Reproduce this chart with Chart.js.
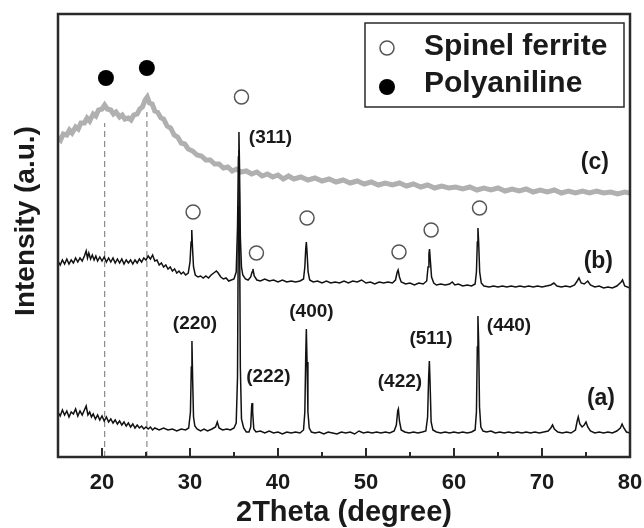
<!DOCTYPE html>
<html>
<head>
<meta charset="utf-8">
<script src="https://cdn.jsdelivr.net/npm/chart.js@4.4.0/dist/chart.umd.min.js"></script>
<style>
  html, body { margin: 0; padding: 0; background: #fff; }
  #wrap { width: 644px; height: 528px; }
</style>
</head>
<body>
<div id="wrap"><canvas id="xrd"></canvas></div>
<script>
const FONT = "'Liberation Sans', Arial, sans-serif";

// ================= DATA (2theta, intensity in arbitrary units) =================
const curveA = [
  [15,45],[15.25,41],[15.5,47],[15.75,42],[16,46],[16.25,40],[16.5,45],[16.75,43],[17,48],[17.25,41],
  [17.5,46],[17.75,42],[18,47],[18.2,51],[18.4,42],[18.6,45],[18.8,40],[19,43],[19.25,38],[19.5,42],
  [19.75,37],[20,41],[20.25,36],[20.5,40],[20.75,35],[21,38],[21.25,34],[21.5,37],[21.75,33],[22,36],
  [22.25,32],[22.5,35],[22.75,31],[23,34],[23.25,30],[23.5,33],[23.75,29],[24,32],[24.25,29],[24.5,31],
  [24.75,28],[25,30],[25.25,28],[25.5,30],[25.75,27],[26,29],[26.5,27],[27,29],[27.5,27],[28,28],
  [28.5,26],[29,28],[29.5,27],[29.85,29],[30.05,45],[30.15,90],[30.22,116],[30.3,78],[30.4,40],[30.55,31],
  [30.8,28],[31.2,26],[31.6,28],[32,26],[32.5,28],[32.9,30],[33.1,35],[33.3,29],[33.7,27],[34.2,28],
  [34.6,27],[35,29],[35.25,34],[35.4,80],[35.5,250],[35.56,307],[35.62,250],[35.72,90],[35.85,38],[36.1,29],
  [36.4,25],[36.7,25],[36.9,30],[37,50],[37.05,54],[37.12,45],[37.25,28],[37.5,25],[38,26],[38.5,24],
  [39,26],[39.5,24],[40,25],[40.5,23],[41,25],[41.5,24],[42,25],[42.5,24],[42.9,27],[43.05,45],
  [43.15,100],[43.22,128],[43.3,95],[43.4,45],[43.55,29],[43.8,25],[44.2,24],[44.7,25],[45.2,23],[45.7,25],
  [46.2,24],[46.7,23],[47.2,25],[47.7,24],[48.2,25],[48.7,23],[49.2,26],[49.7,24],[50.2,25],[50.7,24],
  [51.2,25],[51.7,24],[52.2,25],[52.7,24],[53.2,26],[53.45,32],[53.6,46],[53.68,48],[53.8,36],[54,27],
  [54.4,25],[54.9,24],[55.4,25],[55.9,24],[56.4,25],[56.8,26],[57,40],[57.12,80],[57.2,96],[57.28,75],
  [57.4,35],[57.6,27],[58,25],[58.5,24],[59,25],[59.5,24],[60,25],[60.5,24],[61,25],[61.5,24],
  [62,25],[62.4,27],[62.55,45],[62.65,110],[62.72,141],[62.8,115],[62.9,50],[63.05,30],[63.3,26],[63.7,25],
  [64.2,26],[64.7,24],[65.2,25],[65.7,24],[66.2,25],[66.7,24],[67.2,25],[67.7,24],[68.2,25],[68.7,24],
  [69.2,25],[69.7,24],[70.2,25],[70.7,26],[71,29],[71.2,32],[71.4,28],[71.8,25],[72.3,24],[72.8,25],
  [73.3,24],[73.8,27],[74,36],[74.12,40],[74.3,33],[74.55,30],[74.8,32],[75,35],[75.2,30],[75.5,26],
  [76,24],[76.5,25],[77,24],[77.5,25],[78,24],[78.5,26],[78.9,29],[79.1,33],[79.3,29],[79.6,25],[80,24]
];

const curveB = [
  [15,196],[15.25,192],[15.5,197],[15.75,193],[16,198],[16.25,193],[16.5,197],[16.75,194],[17,199],[17.25,195],
  [17.5,199],[17.75,196],[18,201],[18.2,206],[18.35,199],[18.5,204],[18.7,198],[18.9,202],[19.1,197],[19.3,201],
  [19.5,196],[19.75,200],[20,196],[20.25,200],[20.5,195],[20.75,199],[21,195],[21.25,199],[21.5,194],[21.75,198],
  [22,194],[22.25,198],[22.5,193],[22.75,197],[23,194],[23.25,197],[23.5,193],[23.75,197],[24,194],[24.25,198],
  [24.5,195],[24.75,199],[25,197],[25.25,201],[25.5,198],[25.75,202],[26,196],[26.25,197],[26.5,192],[26.75,194],
  [27,190],[27.25,192],[27.5,188],[27.75,190],[28,186],[28.25,188],[28.5,184],[28.75,186],[29,183],[29.25,185],
  [29.5,182],[29.8,184],[30,195],[30.12,215],[30.2,227],[30.28,210],[30.4,190],[30.6,182],[30.9,180],[31.2,181],
  [31.5,179],[31.8,181],[32.1,179],[32.4,182],[32.7,184],[33,186],[33.2,184],[33.5,180],[33.8,178],[34.1,179],
  [34.4,176],[34.7,177],[35,178],[35.25,185],[35.4,230],[35.5,300],[35.56,325],[35.62,295],[35.72,220],[35.85,190],
  [36,182],[36.3,178],[36.6,177],[36.9,180],[37.05,185],[37.15,188],[37.3,181],[37.6,177],[38,176],[38.5,178],
  [39,176],[39.5,177],[40,175],[40.5,177],[41,175],[41.5,176],[42,175],[42.5,176],[42.9,178],[43.05,190],
  [43.15,208],[43.22,215],[43.3,205],[43.42,185],[43.6,177],[44,175],[44.5,176],[45,174],[45.5,176],[46,174],
  [46.5,175],[47,174],[47.5,176],[48,174],[48.5,176],[49,175],[49.5,177],[50,174],[50.5,175],[51,173],
  [51.5,175],[52,174],[52.5,175],[53,174],[53.35,177],[53.55,185],[53.65,187],[53.8,180],[54,175],[54.5,173],
  [55,174],[55.5,172],[56,174],[56.5,173],[56.9,176],[57.05,190],[57.15,203],[57.22,208],[57.3,198],[57.45,180],
  [57.7,174],[58,172],[58.5,173],[59,172],[59.5,173],[59.8,175],[60.1,172],[60.5,173],[61,171],[61.5,172],
  [62,171],[62.4,173],[62.55,185],[62.65,215],[62.72,229],[62.8,215],[62.92,185],[63.1,174],[63.4,171],[64,170],
  [64.5,171],[65,170],[65.5,171],[66,170],[66.5,171],[67,170],[67.5,171],[68,170],[68.5,171],[69,170],
  [69.5,171],[70,170],[70.5,171],[71,172],[71.35,174],[71.7,171],[72.2,170],[72.7,171],[73.2,170],[73.7,172],
  [74,176],[74.2,179],[74.45,174],[74.8,173],[75.2,176],[75.5,172],[76,170],[76.5,171],[77,169],[77.5,170],
  [78,169],[78.5,171],[79,175],[79.15,177],[79.4,171],[80,169]
];

const curveC = [
  [15,320],[15.3,317],[15.6,323],[16,322],[16.3,327],[16.6,324],[17,330],[17.3,328],[17.6,334],[18,334],
  [18.3,339],[18.6,336],[19,343],[19.3,341],[19.6,347],[20,348],[20.3,352],[20.6,348],[21,347],[21.3,343],
  [21.6,345],[22,340],[22.3,342],[22.6,338],[23,339],[23.3,337],[23.6,342],[24,343],[24.3,348],[24.6,350],
  [24.9,357],[25.15,360],[25.4,354],[25.7,353],[26,346],[26.3,345],[26.7,339],[27,338],[27.4,331],[27.8,329],
  [28.2,322],[28.6,320],[29,314],[29.4,313],[29.8,308],[30.3,306],[30.8,302],[31.3,301],[31.8,297],[32.3,297],
  [32.8,293],[33.3,293],[33.8,289],[34.3,290],[34.8,286],[35.3,288],[35.8,285],[36.4,286],[37,283],[37.6,285],
  [38.2,281],[38.8,283],[39.4,280],[40,282],[40.6,278],[41.2,281],[41.8,278],[42.6,280],[43.4,277],[44.2,279],
  [45,276],[45.8,278],[46.6,275],[47.4,277],[48.2,274],[49,276],[49.8,273],[50.6,275],[51.4,272],[52.2,274],
  [53,272],[53.8,274],[54.6,271],[55.4,273],[56.2,270],[57,272],[57.8,269],[58.6,271],[59.4,269],[60.2,270],
  [61,268],[61.8,270],[62.6,267],[63.4,269],[64.2,267],[65,269],[65.8,266],[66.6,268],[67.4,266],[68.2,268],
  [69,265],[69.8,267],[70.6,265],[71.4,267],[72.2,264],[73,266],[73.8,264],[74.6,266],[75.4,264],[76.2,266],
  [77,264],[77.8,265],[78.6,263],[79.4,265],[80,264]
];

// marker positions
const ferriteX = [30.35, 35.85, 37.55, 43.3, 53.75, 57.4, 62.9];
const ferriteY = [245, 360, 204, 239, 205, 227, 249];
const panipX = [20.45, 25.1];
const panipY = [379, 389];

// dashed guide lines at the polyaniline peaks
const guideX = [20.3, 25.1];
const guideTop = [334, 345];

// peak labels
const hklText = ['(311)', '(220)', '(222)', '(400)', '(422)', '(511)', '(440)'];
const hklX = [39.15, 30.57, 38.9, 43.8, 53.86, 57.39, 66.25];
const hklY = [319, 133, 80, 145, 75, 118, 131];
const curveText = ['(a)', '(b)', '(c)'];
const curveTextX = [76.7, 76.4, 76.0];
const curveTextY = [58, 195, 294];

const legendText = ['Spinel ferrite', 'Polyaniline'];

// ================= HELPERS =================
const toPts = arr => arr.map(p => ({ x: p[0], y: p[1] }));
const zipPts = (xs, ys) => xs.map((v, i) => ({ x: v, y: ys[i] }));

const decor = {
  id: 'decor',
  afterDatasetsDraw(chart) {
    const { ctx, scales: { x, y } } = chart;
    ctx.save();
    ctx.fillStyle = '#1a1a1a';
    ctx.textAlign = 'center';
    ctx.textBaseline = 'middle';
    ctx.font = 'bold 19px ' + FONT;
    hklText.forEach((t, i) => {
      ctx.fillText(t, x.getPixelForValue(hklX[i]), y.getPixelForValue(hklY[i]));
    });
    ctx.font = 'bold 23px ' + FONT;
    curveText.forEach((t, i) => {
      ctx.fillText(t, x.getPixelForValue(curveTextX[i]), y.getPixelForValue(curveTextY[i]));
    });
    ctx.restore();
  },
  afterDraw(chart) {
    const { ctx, chartArea: a, scales: { x } } = chart;
    ctx.save();
    // frame
    ctx.strokeStyle = '#2a2a2a';
    ctx.lineWidth = 2.5;
    ctx.strokeRect(a.left, a.top, a.right - a.left, a.bottom - a.top);
    // inward ticks
    ctx.lineWidth = 2;
    x.ticks.forEach(t => {
      if (t.value <= x.min || t.value >= x.max) return;
      const px = Math.round(x.getPixelForValue(t.value));
      const len = t.value % 10 === 0 ? 9 : 5;
      ctx.beginPath();
      ctx.moveTo(px, a.bottom);
      ctx.lineTo(px, a.bottom - len);
      ctx.stroke();
    });
    // y title
    ctx.fillStyle = '#1a1a1a';
    ctx.font = 'bold 28px ' + FONT;
    ctx.textAlign = 'center';
    ctx.textBaseline = 'middle';
    ctx.translate(26, 221);
    ctx.rotate(-Math.PI / 2);
    ctx.fillText('Intensity (a.u.)', 0, 0);
    ctx.restore();

    // legend box
    ctx.save();
    const bx = a.right - 6 - 259, by = a.top + 9;
    ctx.strokeStyle = '#2a2a2a';
    ctx.lineWidth = 1.5;
    ctx.strokeRect(bx, by, 259, 84);
    ctx.beginPath();
    ctx.arc(bx + 22, by + 25, 7, 0, Math.PI * 2);
    ctx.strokeStyle = '#555';
    ctx.stroke();
    ctx.beginPath();
    ctx.arc(bx + 22, by + 64, 8, 0, Math.PI * 2);
    ctx.fillStyle = '#000';
    ctx.fill();
    ctx.fillStyle = '#1a1a1a';
    ctx.font = 'bold 30px ' + FONT;
    ctx.textBaseline = 'alphabetic';
    ctx.textAlign = 'left';
    ctx.fillText(legendText[0], bx + 59, by + 32);
    ctx.fillText(legendText[1], bx + 59, by + 69);
    ctx.restore();
  }
};

// ================= CHART =================
const lineDs = (label, data, color, width) => ({
  label, data: toPts(data), showLine: true, borderColor: color, borderWidth: width,
  pointRadius: 0, tension: 0, fill: false
});

new Chart(document.getElementById('xrd'), {
  type: 'scatter',
  data: {
    datasets: [
      {
        label: legendText[0], data: zipPts(ferriteX, ferriteY), pointRadius: 7, pointStyle: 'circle',
        backgroundColor: 'rgba(255,255,255,0)', borderColor: '#555', borderWidth: 1.5
      },
      {
        label: legendText[1], data: zipPts(panipX, panipY), pointRadius: 8,
        backgroundColor: '#000', borderColor: '#000', borderWidth: 0
      },
      lineDs('(a)', curveA, '#111', 1.5),
      lineDs('(b)', curveB, '#111', 1.5),
      lineDs('(c)', curveC, '#b0b0b0', 5),
      ...guideX.map((gx, i) => ({
        label: 'guide' + i, data: [{ x: gx, y: 0 }, { x: gx, y: guideTop[i] }], showLine: true,
        borderColor: '#8a8a8a', borderWidth: 1.2, borderDash: [6, 4], pointRadius: 0
      }))
    ]
  },
  options: {
    responsive: true,
    maintainAspectRatio: false,
    animation: false,
    layout: { padding: { top: 14, right: 14, left: 0, bottom: 0 } },
    plugins: { legend: { display: false }, tooltip: { enabled: false } },
    scales: {
      x: {
        type: 'linear', min: 15, max: 80,
        grid: { display: false },
        border: { display: false },
        ticks: {
          stepSize: 5, autoSkip: false, padding: 5, color: '#1a1a1a',
          font: { family: FONT, size: 22, weight: 'bold' },
          callback: v => (v % 10 === 0 ? v : '')
        },
        title: {
          display: true, text: '2Theta (degree)', color: '#1a1a1a',
          font: { family: FONT, size: 29, weight: 'bold', lineHeight: 1 },
          padding: { top: 0, bottom: 1 }
        },
        afterFit: s => { s.height = 71; s.paddingRight = 0; s.paddingLeft = 0; }
      },
      y: {
        type: 'linear', min: 0, max: 443,
        grid: { display: false },
        border: { display: false },
        ticks: { display: false },
        afterFit: s => { s.width = 58; }
      }
    }
  },
  plugins: [decor]
});
</script>
</body>
</html>
